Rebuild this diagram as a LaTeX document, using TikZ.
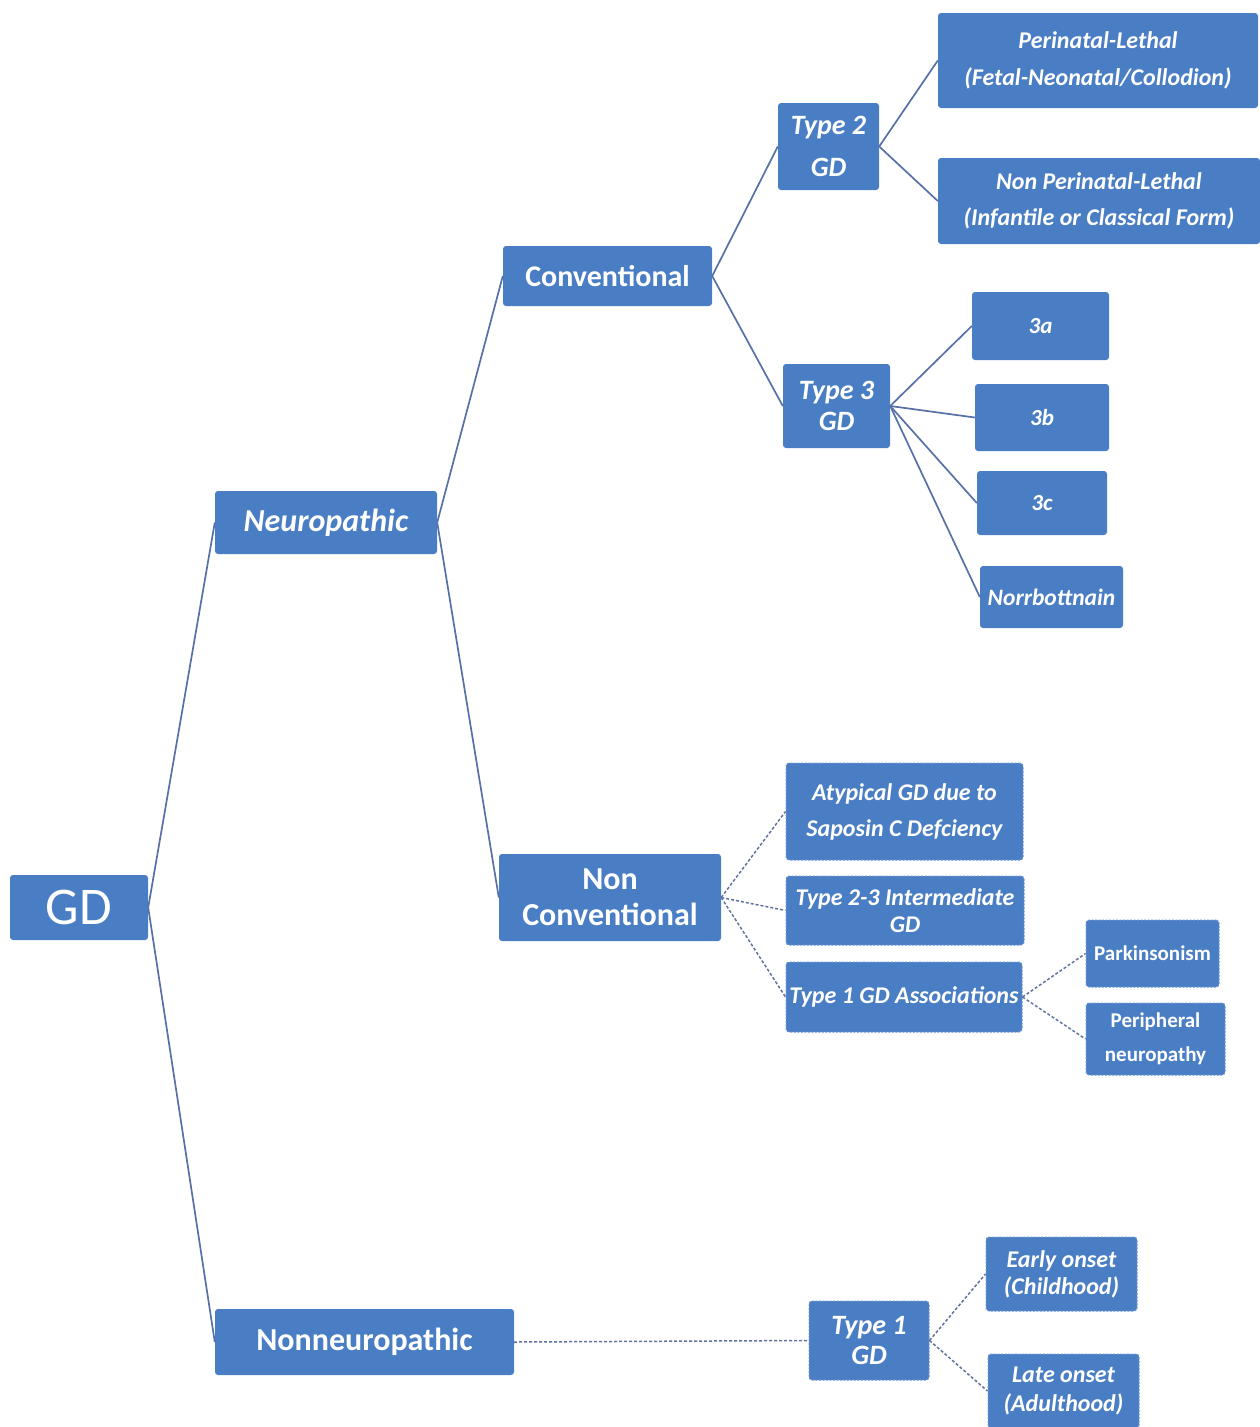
\documentclass[tikz,border=0pt]{standalone}
\usepackage{fontspec}
\setmainfont{Carlito}
\definecolor{boxblue}{RGB}{74,126,196}
\definecolor{dashblue}{RGB}{110,150,210}
\definecolor{linkblue}{RGB}{88,112,168}
\tikzset{
  box/.style={fill=boxblue, rounded corners=3pt, text=white, inner sep=0pt, align=center},
  dbox/.style={box, draw=dashblue, dash pattern=on 2pt off 1.5pt, line width=1pt},
  link/.style={draw=linkblue, line width=1.7pt},
  dlink/.style={draw=linkblue!80!gray, line width=1.5pt, dash pattern=on 3pt off 2pt},
  bi/.style={font=\fontsize{#1}{#1}\selectfont\bfseries\itshape},
  bu/.style={font=\fontsize{#1}{#1}\selectfont\bfseries},
}
\begin{document}
\begin{tikzpicture}[x=1pt,y=-1pt]
\useasboundingbox (0,0) rectangle (1260,1427);
% level 0
\node[box, minimum width=138pt, minimum height=65pt, font=\fontsize{53}{53}\selectfont] (gd) at (79,907.5) {GD};
% level 1
\node[box, bi=32, minimum width=222pt, minimum height=63pt] (neuro) at (326,522.5) {Neuropathic};
\node[box, bu=32, minimum width=299pt, minimum height=66pt] (nonneuro) at (364.5,1342) {Nonneuropathic};
% level 2
\node[box, bu=30, minimum width=209pt, minimum height=60pt] (conv) at (607.5,276) {Conventional};
\node[box, minimum width=222pt, minimum height=87pt, font=\fontsize{32}{36}\selectfont\bfseries] (nonconv) at (610,897.5) {Non\\Conventional};
% conventional branch
\node[box, minimum width=101pt, minimum height=87pt, font=\fontsize{28}{42}\selectfont\bfseries\itshape] (t2) at (828.5,146.5) {Type 2\\GD};
\node[box, minimum width=107pt, minimum height=84pt, font=\fontsize{28}{31}\selectfont\bfseries\itshape] (t3) at (836.5,406) {Type 3\\GD};
\node[box, minimum width=320pt, minimum height=95pt, font=\fontsize{24}{37}\selectfont\bfseries\itshape] (peri) at (1098,60.5) {Perinatal-Lethal\\(Fetal-Neonatal/Collodion)};
\node[box, minimum width=322pt, minimum height=86pt, font=\fontsize{24}{36}\selectfont\bfseries\itshape] (nonperi) at (1099,201) {Non Perinatal-Lethal\\(Infantile or Classical Form)};
\node[box, bi=23, minimum width=137pt, minimum height=68pt] (ta) at (1040.5,326) {3a};
\node[box, bi=23, minimum width=134pt, minimum height=67pt] (tb) at (1042,417.5) {3b};
\node[box, bi=23, minimum width=130pt, minimum height=64pt] (tc) at (1042,503) {3c};
\node[box, bi=23.5, minimum width=143pt, minimum height=62pt] (norr) at (1051.5,597) {Norrbottnain};
% non conventional branch
\node[dbox, minimum width=237pt, minimum height=97pt, font=\fontsize{24}{36}\selectfont\bfseries\itshape] (atyp) at (904.5,811.5) {Atypical GD due to\\Saposin C Defciency};
\node[dbox, minimum width=238pt, minimum height=69pt, font=\fontsize{24}{27}\selectfont\bfseries\itshape] (t23) at (905,910.5) {Type 2-3 Intermediate\\GD};
\node[dbox, bi=24, minimum width=236pt, minimum height=70pt] (t1a) at (904,997) {Type 1 GD Associations};
\node[dbox, bu=21, minimum width=133pt, minimum height=67pt] (park) at (1152.5,953.5) {Parkinsonism};
\node[dbox, minimum width=139pt, minimum height=72pt, font=\fontsize{21}{34}\selectfont\bfseries] (perineu) at (1155.5,1039) {Peripheral\\neuropathy};
% nonneuropathic branch
\node[dbox, minimum width=120pt, minimum height=79pt, font=\fontsize{28}{30}\selectfont\bfseries\itshape] (t1) at (869,1340.5) {Type 1\\GD};
\node[dbox, minimum width=151pt, minimum height=74pt, font=\fontsize{24}{27}\selectfont\bfseries\itshape] (early) at (1061.5,1274) {Early onset\\(Childhood)};
\node[dbox, minimum width=151pt, minimum height=74pt, font=\fontsize{24}{29}\selectfont\bfseries\itshape] (late) at (1063.5,1391) {Late onset\\(Adulthood)};
% connectors
\draw[link] (gd.east) -- (neuro.west);
\draw[link] (gd.east) -- (nonneuro.west);
\draw[link] (neuro.east) -- (conv.west);
\draw[link] (neuro.east) -- (nonconv.west);
\draw[link] (conv.east) -- (t2.west);
\draw[link] (conv.east) -- (t3.west);
\draw[link] (t2.east) -- (peri.west);
\draw[link] (t2.east) -- (nonperi.west);
\draw[link] (t3.east) -- (ta.west);
\draw[link] (t3.east) -- (tb.west);
\draw[link] (t3.east) -- (tc.west);
\draw[link] (t3.east) -- (norr.west);
\draw[dlink] (nonconv.east) -- (atyp.west);
\draw[dlink] (nonconv.east) -- (t23.west);
\draw[dlink] (nonconv.east) -- (t1a.west);
\draw[dlink] (t1a.east) -- (park.west);
\draw[dlink] (t1a.east) -- (perineu.west);
\draw[dlink] (nonneuro.east) -- (t1.west);
\draw[dlink] (t1.east) -- (early.west);
\draw[dlink] (t1.east) -- (late.west);
\end{tikzpicture}
\end{document}
